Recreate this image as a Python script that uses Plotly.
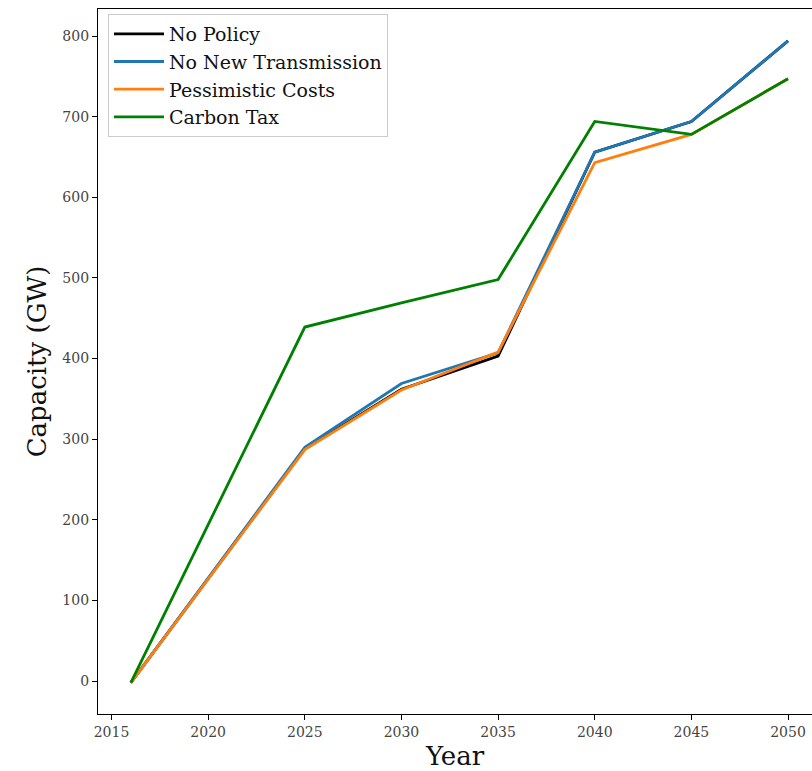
import plotly.graph_objects as go

# Installed capacity by scenario (GW)
years = [2016, 2025, 2030, 2035, 2040, 2045, 2050]
no_policy = [-2, 288, 362, 403, 656, 694, 794]
no_new_transmission = [-2, 290, 369, 407, 656, 694, 794]
pessimistic_costs = [-2, 287, 361, 408, 643, 678, 747]
carbon_tax = [-2, 439, 469, 498, 694, 678, 747]

series_names = ["No Policy", "No New Transmission", "Pessimistic Costs", "Carbon Tax"]
series_values = [no_policy, no_new_transmission, pessimistic_costs, carbon_tax]
series_colors = ["#000000", "#1f77b4", "#ff7f0e", "#008000"]

x_ticks = [2015, 2020, 2025, 2030, 2035, 2040, 2045, 2050]
y_ticks = [0, 100, 200, 300, 400, 500, 600, 700, 800]

serif = "DejaVu Serif, Liberation Serif, serif"

fig = go.Figure()
for name, vals, color in zip(series_names, series_values, series_colors):
    fig.add_trace(go.Scatter(
        x=years, y=vals, name=name, mode="lines",
        line=dict(color=color, width=2.8),
    ))

fig.update_layout(
    width=812, height=771,
    margin=dict(l=98, r=0, t=9, b=57),
    paper_bgcolor="white", plot_bgcolor="white",
    font=dict(family=serif, color="#222222"),
    showlegend=True,
    legend=dict(
        x=0.014, y=0.993, xanchor="left", yanchor="top",
        bgcolor="rgba(255,255,255,0.8)", bordercolor="#cccccc", borderwidth=1,
        font=dict(family=serif, size=19, color="#111111"),
        tracegroupgap=0, itemwidth=50,
    ),
)

fig.update_xaxes(
    range=[2014.3, 2051.24],
    tickmode="array", tickvals=x_ticks, ticktext=[str(t) for t in x_ticks],
    ticks="outside", ticklen=5, tickwidth=1, tickcolor="#000000",
    tickfont=dict(family=serif, size=14, color="#444444"),
    showgrid=False, zeroline=False, automargin=False,
    showline=True, linecolor="#000000", linewidth=1.3, mirror=True,
    title=dict(text="Year", font=dict(family=serif, size=26, color="#111111"), standoff=7),
)

fig.update_yaxes(
    range=[-40.9, 833.5],
    tickmode="array", tickvals=y_ticks, ticktext=[str(t) for t in y_ticks],
    ticks="outside", ticklen=5, tickwidth=1, tickcolor="#000000",
    tickfont=dict(family=serif, size=14, color="#444444"),
    showgrid=False, zeroline=False, automargin=False,
    showline=True, linecolor="#000000", linewidth=1.3, mirror=False,
    title=dict(text="Capacity (GW)", font=dict(family=serif, size=26, color="#111111"), standoff=8),
)

fig.write_html("out.html")
